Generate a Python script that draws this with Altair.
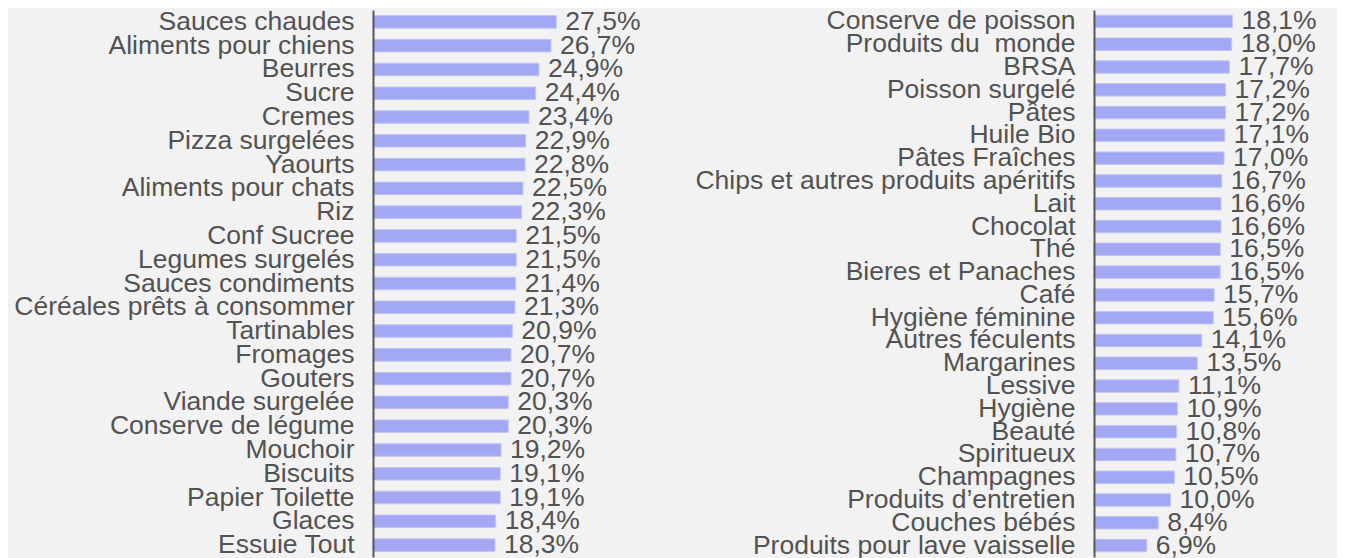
import altair as alt
import pandas as pd

FONT = "Liberation Sans"
FS = 26.5
TEXT_COLOR = "#525252"
BAR_COLOR = "#a3a8f5"
BAR_EDGE = "#c4c7f3"
BG = "#f2f2f2"

left_cats = [
    "Sauces chaudes", "Aliments pour chiens", "Beurres", "Sucre", "Cremes",
    "Pizza surgelées", "Yaourts", "Aliments pour chats", "Riz", "Conf Sucree",
    "Legumes surgelés", "Sauces condiments", "Céréales prêts à consommer",
    "Tartinables", "Fromages", "Gouters", "Viande surgelée", "Conserve de légume",
    "Mouchoir", "Biscuits", "Papier Toilette", "Glaces", "Essuie Tout",
]
left_vals = [
    27.5, 26.7, 24.9, 24.4, 23.4, 22.9, 22.8, 22.5, 22.3, 21.5, 21.5, 21.4,
    21.3, 20.9, 20.7, 20.7, 20.3, 20.3, 19.2, 19.1, 19.1, 18.4, 18.3,
]

right_cats = [
    "Conserve de poisson", "Produits du\u00a0 monde", "BRSA", "Poisson surgelé",
    "Pâtes", "Huile Bio", "Pâtes Fraîches", "Chips et autres produits apéritifs",
    "Lait", "Chocolat", "Thé", "Bieres et Panaches", "Café", "Hygiène féminine",
    "Autres féculents", "Margarines", "Lessive", "Hygiène", "Beauté",
    "Spiritueux", "Champagnes", "Produits d’entretien", "Couches bébés",
    "Produits pour lave vaisselle",
]
right_vals = [
    18.1, 18.0, 17.7, 17.2, 17.2, 17.1, 17.0, 16.7, 16.6, 16.6, 16.5, 16.5,
    15.7, 15.6, 14.1, 13.5, 11.1, 10.9, 10.8, 10.7, 10.5, 10.0, 8.4, 6.9,
]


def fmt(v):
    return f"{v:.1f}%".replace(".", ",")


def panel(cats, vals, xmax, width, pad_inner):
    df = pd.DataFrame({"cat": cats, "val": vals, "label": [fmt(v) for v in vals]})
    base = alt.Chart(df).encode(
        y=alt.Y(
            "cat:N",
            sort=None,
            title=None,
            scale=alt.Scale(paddingInner=pad_inner, paddingOuter=pad_inner / 2),
            axis=alt.Axis(
                ticks=False,
                grid=False,
                labelPadding=19,
                labelFontSize=FS,
                labelFont=FONT,
                labelColor=TEXT_COLOR,
                labelLimit=0,
                labelBaseline="middle",
                domainColor="#595959",
                domainWidth=2,
                zindex=1,
            ),
        ),
        x=alt.X("val:Q", axis=None, scale=alt.Scale(domain=[0, xmax])),
    )
    bars = base.mark_bar(color=BAR_COLOR, stroke=BAR_EDGE, strokeWidth=1)
    text = base.mark_text(
        align="left", baseline="middle", dx=9, font=FONT, fontSize=FS, color=TEXT_COLOR
    ).encode(text="label:N")
    return (bars + text).properties(width=width, height=547)


left = panel(left_cats, left_vals, 30, 200, 0.47)
right = panel(right_cats, right_vals, 20, 153, 0.45)

chart = (
    alt.hconcat(left, right, spacing=521, bounds="flush")
    .properties(background=BG, padding={"left": 5, "top": -1, "right": 20, "bottom": 0})
    .configure_view(stroke=None)
)

chart.save("out.html", embed_options={"renderer": "svg", "actions": False})
